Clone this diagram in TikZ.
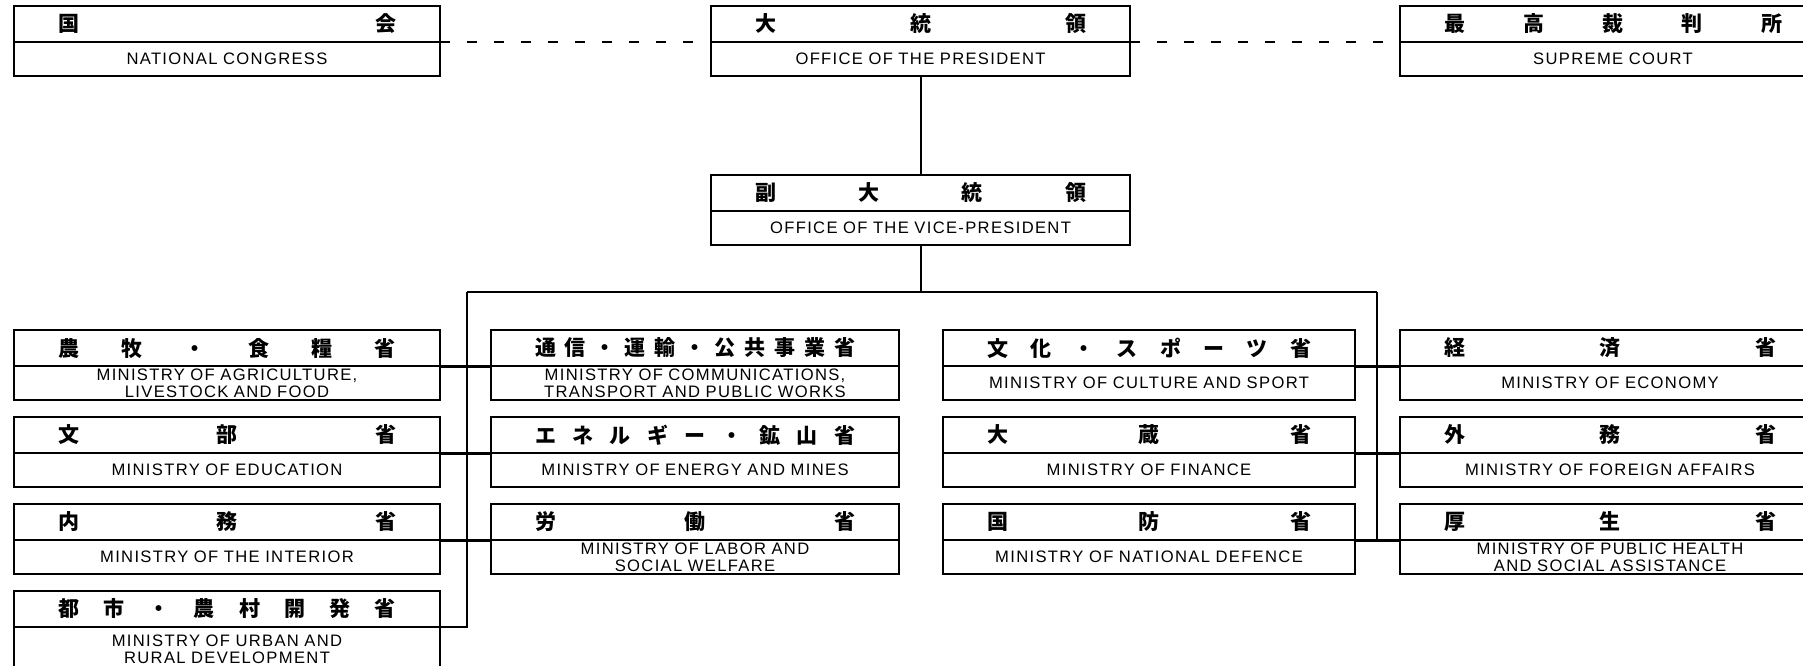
\documentclass[tikz,border=0pt]{standalone}
\usepackage{fontspec}
\setmainfont{Liberation Sans}
\newfontfamily\jpfont{Noto Sans CJK JP}
\usetikzlibrary{positioning}
\newcommand{\spread}[1]{\hbox to \hsize{\spaceskip=0pt plus 1fil\relax #1}}

\begin{document}
\begin{tikzpicture}[x=0.5pt, y=-0.5pt,
        jpbox/.style={rectangle, draw, line width=0.9pt, text width=#1, inner xsep=22pt, inner ysep=0pt, outer sep=0pt, minimum height=18pt, font=\jpfont\bfseries\fontsize{10.5}{11}\selectfont},
        enbox/.style={rectangle, draw, line width=0.9pt, text width=#1, inner xsep=22pt, inner ysep=0pt, outer sep=0pt, minimum height=17pt, align=center, font=\fontsize{8.3}{8.6}\selectfont\addfontfeature{LetterSpace=8}},
        tree/.style={draw, line width=1pt},
        branch/.style={draw, line width=1.5pt},
        link/.style={draw, line width=0.6pt, dash pattern=on 5pt off 8.5pt}
    ]
        \useasboundingbox (0,0) rectangle (1803,665);
        \clip (0,0) rectangle (1803,665);

        \node [jpbox=169pt, anchor=north west] (nc) at (14,6) {\spread{国 会}};
        \node [enbox=169pt, below=0pt of nc] (nc-en) {NATIONAL CONGRESS};
        \node [jpbox=165.5pt, anchor=north west] (pres) at (711,6) {\spread{大 統 領}};
        \node [enbox=165.5pt, below=0pt of pres] (pres-en) {OFFICE OF THE PRESIDENT};
        \node [jpbox=169pt, anchor=north west] (sc) at (1400,6) {\spread{最 高 裁 判 所}};
        \node [enbox=169pt, below=0pt of sc] (sc-en) {SUPREME COURT};
        \node [jpbox=165.5pt, below=49.5pt of pres-en] (vp) {\spread{副 大 統 領}};
        \node [enbox=165.5pt, below=0pt of vp] (vp-en) {OFFICE OF THE VICE-PRESIDENT};

        \node [jpbox=169pt, anchor=north west] (agri) at (14,330) {\spread{農 牧 ・ 食 糧 省}};
        \node [enbox=169pt, below=0pt of agri] (agri-en) {MINISTRY OF AGRICULTURE,\\ LIVESTOCK AND FOOD};
        \node [jpbox=169pt, below=8.5pt of agri-en] (edu) {\spread{文 部 省}};
        \node [enbox=169pt, below=0pt of edu] (edu-en) {MINISTRY OF EDUCATION};
        \node [jpbox=169pt, below=8.5pt of edu-en] (inter) {\spread{内 務 省}};
        \node [enbox=169pt, below=0pt of inter] (inter-en) {MINISTRY OF THE INTERIOR};
        \node [jpbox=169pt, below=8.5pt of inter-en] (urban) {\spread{都 市 ・ 農 村 開 発 省}};
        \node [enbox=169pt, below=0pt of urban, minimum height=22pt] (urban-en) {MINISTRY OF URBAN AND\\ RURAL DEVELOPMENT};

        \node [jpbox=160pt, right=25.5pt of agri] (comm) {\spread{通 信 ・ 運 輸 ・ 公 共 事 業 省}};
        \node [enbox=160pt, below=0pt of comm] (comm-en) {MINISTRY OF COMMUNICATIONS,\\ TRANSPORT AND PUBLIC WORKS};
        \node [jpbox=160pt, right=25.5pt of edu] (energy) {\spread{エ ネ ル ギ ー ・ 鉱 山 省}};
        \node [enbox=160pt, below=0pt of energy] (energy-en) {MINISTRY OF ENERGY AND MINES};
        \node [jpbox=160pt, right=25.5pt of inter] (labor) {\spread{労 働 省}};
        \node [enbox=160pt, below=0pt of labor] (labor-en) {MINISTRY OF LABOR AND\\ SOCIAL WELFARE};

        \node [jpbox=162pt, anchor=north west] (culture) at (943,330) {\spread{文 化 ・ ス ポ ー ツ 省}};
        \node [enbox=162pt, below=0pt of culture] (culture-en) {MINISTRY OF CULTURE AND SPORT};
        \node [jpbox=162pt, below=8.5pt of culture-en] (finance) {\spread{大 蔵 省}};
        \node [enbox=162pt, below=0pt of finance] (finance-en) {MINISTRY OF FINANCE};
        \node [jpbox=162pt, below=8.5pt of finance-en] (defence) {\spread{国 防 省}};
        \node [enbox=162pt, below=0pt of defence] (defence-en) {MINISTRY OF NATIONAL DEFENCE};

        \node [jpbox=166pt, right=22.5pt of culture] (economy) {\spread{経 済 省}};
        \node [enbox=166pt, below=0pt of economy] (economy-en) {MINISTRY OF ECONOMY};
        \node [jpbox=166pt, right=22.5pt of finance] (foreign) {\spread{外 務 省}};
        \node [enbox=166pt, below=0pt of foreign] (foreign-en) {MINISTRY OF FOREIGN AFFAIRS};
        \node [jpbox=166pt, right=22.5pt of defence] (health) {\spread{厚 生 省}};
        \node [enbox=166pt, below=0pt of health] (health-en) {MINISTRY OF PUBLIC HEALTH\\ AND SOCIAL ASSISTANCE};

        \coordinate (busL) at (467,292);
        \coordinate (busR) at (1377,292);

        \draw [link] (nc.south east) -- (pres.south west);
        \draw [link] (pres.south east) -- (sc.south west);
        \draw [tree] (pres-en.south) -- (vp.north);
        \draw [tree] (vp-en.south) -- (vp-en.south |- busL);
        \draw [tree] (busL) -- (busR);
        \draw [tree] (busL) |- (urban.south east);
        \draw [tree] (busR) -- (busR |- defence.south east);
        \draw [branch] (agri.south east) -- (comm.south west);
        \draw [branch] (edu.south east) -- (energy.south west);
        \draw [branch] (inter.south east) -- (labor.south west);
        \draw [branch] (culture.south east) -- (economy.south west);
        \draw [branch] (finance.south east) -- (foreign.south west);
        \draw [branch] (defence.south east) -- (health.south west);
    \end{tikzpicture}
\end{document}
